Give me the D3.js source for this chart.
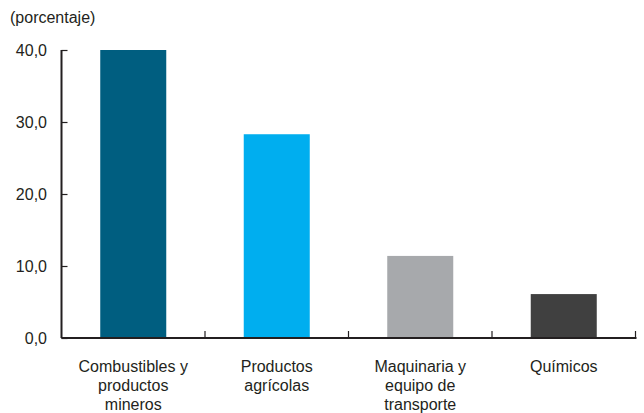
<!DOCTYPE html>
<html><head><meta charset="utf-8">
<script src="https://cdn.jsdelivr.net/npm/d3@7"></script>
<style>body{margin:0;background:#fff}svg{display:block}text{font-family:"Liberation Sans",Arial,sans-serif;fill:#231f20}</style>
</head><body>
<svg id="c" width="644" height="413"></svg>
<script>
const categories = [["Combustibles y","productos","mineros"],["Productos","agrícolas"],["Maquinaria y","equipo de","transporte"],["Químicos"]];
const values = [40.0, 28.3, 11.4, 6.1];
const colors = ["#005e80","#00aeef","#a7a9ac","#404040"];
const yTicks = [0, 10, 20, 30, 40];

(function(){
const svg = d3.select("#c");
const mLeft = 61.5, mRight = 635.5, mTop = 50, mBottom = 338;
const keys = categories.map((d,i)=>i);
const x = d3.scaleBand().domain(keys).range([mLeft,mRight]).paddingInner(0.54).paddingOuter(0.27);
const y = d3.scaleLinear().domain([0,40]).range([mBottom,mTop]);
const fs = 16;

svg.append("text").attr("x",10).attr("y",23).attr("font-size",fs).text("(porcentaje)");

svg.selectAll("rect.bar").data(values).join("rect")
  .attr("x",(d,i)=>x(i)).attr("width",x.bandwidth())
  .attr("y",d=>y(d)).attr("height",d=>mBottom-y(d))
  .attr("fill",(d,i)=>colors[i]);

const fmt = d => d3.format(".1f")(d).replace(".",",");
const ya = svg.append("g").attr("transform",`translate(${mLeft},0)`)
  .call(d3.axisRight(y).tickValues(yTicks).tickSize(6).tickFormat(""));
ya.select(".domain").attr("stroke","#231f20").attr("stroke-width",2).attr("d",`M0,${mTop}V${mBottom}`);
ya.selectAll(".tick line").attr("stroke","#231f20").attr("stroke-width",1.2);
svg.selectAll("text.yl").data(yTicks).join("text").attr("class","yl")
  .attr("x",47).attr("y",d=>y(d)+5.5).attr("text-anchor","end").attr("font-size",fs).text(fmt);

const bounds = keys.map(i=>mLeft + x.step()*(i+1));
svg.append("line").attr("x1",mLeft).attr("x2",mRight+1).attr("y1",mBottom).attr("y2",mBottom).attr("stroke","#231f20").attr("stroke-width",2);
svg.selectAll("line.xt").data(bounds).join("line").attr("class","xt")
  .attr("x1",d=>d).attr("x2",d=>d).attr("y1",mBottom).attr("y2",mBottom-7).attr("stroke","#231f20").attr("stroke-width",1.2);

categories.forEach((lines,i)=>{
  const cx = x(i)+x.bandwidth()/2;
  const t = svg.append("text").attr("text-anchor","middle").attr("font-size",fs)
    .attr("x",cx).attr("y",372);
  lines.forEach((l,j)=>t.append("tspan").attr("x",cx).attr("dy",j?19:0).text(l));
});
})();
</script>
</body></html>
